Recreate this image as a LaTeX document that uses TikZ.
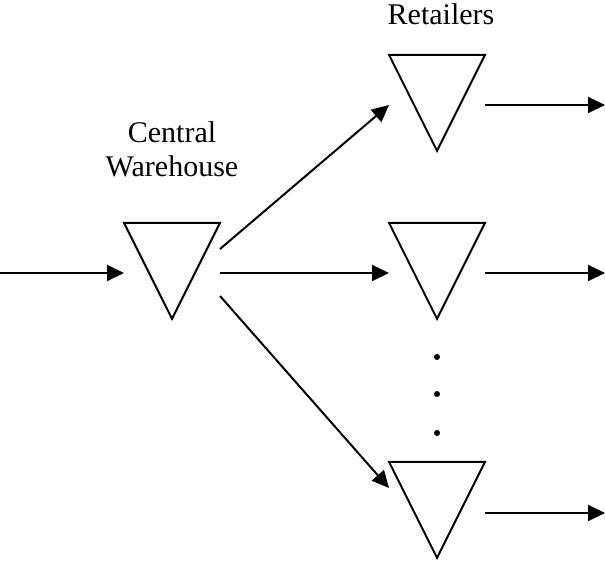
\documentclass[tikz,border=0pt]{standalone}
\usepackage{fontspec}
\setmainfont{Liberation Serif}
\usetikzlibrary{shapes.geometric,arrows.meta}
\tikzset{
  stock/.style={draw,line width=1pt,shape=isosceles triangle,isosceles triangle apex angle=53.13,
    minimum width=48pt,inner sep=0pt,rotate=-90,anchor=apex},
  lbl/.style={font=\fontsize{15}{17}\selectfont,align=center,inner sep=0pt}
}
\begin{document}
\begin{tikzpicture}[x=0.5pt,y=-0.5pt,line width=1pt,>={Triangle[length=8.5pt,width=8pt]}]
\useasboundingbox (0,0) rectangle (605,562);
\node[stock] (W) at (172,321) {};
\node[stock] (R1) at (437,153) {};
\node[stock] (R2) at (437,321) {};
\node[stock] (R3) at (437,560) {};
\node[lbl,anchor=base] (Wl) at (172,176) {Central\\Warehouse};
\node[lbl,anchor=base] (Rl) at (441,25) {Retailers};
\coordinate (in) at (0,273);
\coordinate (Win) at (124,273);
\coordinate (W1) at (220,249);
\coordinate (W2) at (220,273);
\coordinate (W3) at (220,296);
\coordinate (R1in) at (389,105);
\coordinate (R2in) at (389,273);
\coordinate (R3in) at (389,488);
\coordinate (R1out) at (485,105);
\coordinate (R2out) at (485,273);
\coordinate (R3out) at (485,513);
\coordinate (o1) at (605,105);
\coordinate (o2) at (605,273);
\coordinate (o3) at (605,513);
\draw[->] (in) -- (Win);
\draw[->] (W1) -- (R1in);
\draw[->] (W2) -- (R2in);
\draw[->] (W3) -- (R3in);
\draw[->] (R1out) -- (o1);
\draw[->] (R2out) -- (o2);
\draw[->] (R3out) -- (o3);
\foreach \y in {357,394,433} \fill (437,\y) circle (3);
\end{tikzpicture}
\end{document}
